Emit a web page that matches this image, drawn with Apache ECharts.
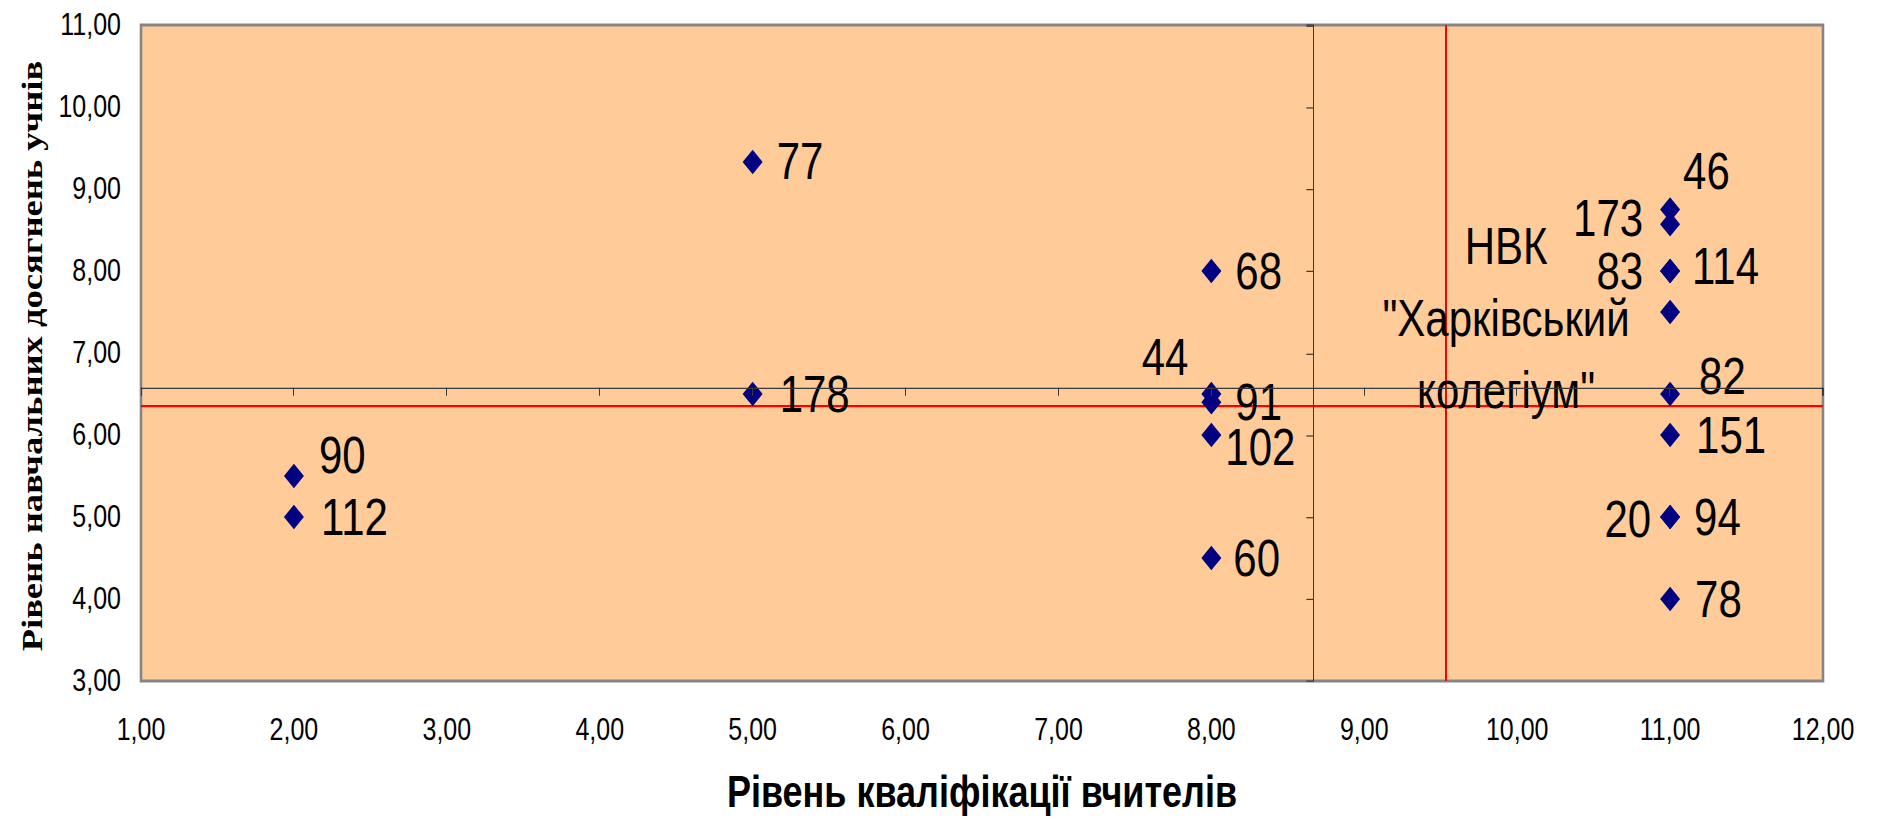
<!DOCTYPE html>
<html>
<head>
<meta charset="utf-8">
<script src="https://cdn.jsdelivr.net/npm/echarts@6/dist/echarts.min.js"></script>
<style>
  html, body { margin: 0; padding: 0; background: #fff; }
  #wrap { width: 1877px; height: 822px; position: relative; }
  /* the original chart is stretched vertically; reproduce that stretch */
  #chart { position: absolute; left: 0; top: 0; width: 1877px; height: 674px;
           transform: scaleY(1.21958); transform-origin: 0 0; }
</style>
</head>
<body>
<div id="wrap"><div id="chart"></div></div>
<script>
// ---- data ----
const pointNames = ['90', '112', '77', '178', '68', '44', '91', '102', '60',
  '46', '173', '83', '114', 'НВК\n"Харківський\nколегіум"', '82', '151', '20', '94', '78'];
const teacherLevel = [2, 2, 5, 5, 8, 8, 8, 8, 8, 11, 11, 11, 11, 11, 11, 11, 11, 11, 11];
const studentLevel = [5.5, 5, 9.33, 6.5, 8, 6.5, 6.4, 6, 4.5, 8.75, 8.57, 8, 8, 7.5, 6.5, 6, 5, 5, 4];
const xRange = [1, 12];
const yRange = [3, 11];
const axisCross = [8.667, 6.575];   // where the black axes cross
const redLines = [9.53, 6.364];     // red reference lines (x, y)
const xTitle = 'Рівень кваліфікації вчителів';
const yTitle = 'Рівень навчальних досягнень учнів';

// ---- label placement (style only) ----
const labelPlace = {
  '90':  { position: 'right', distance: 15 },
  '112': { position: 'right', distance: 17 },
  '77':  { position: 'right', distance: 14 },
  '178': { position: 'right', distance: 17 },
  '68':  { position: 'right', distance: 14 },
  '44':  { position: 'left',  distance: 13 },
  '91':  { position: 'right', distance: 14 },
  '102': { position: 'right', distance: 4 },
  '60':  { position: 'right', distance: 12 },
  '46':  { position: 'right', distance: 3 },
  '173': { position: 'left',  distance: 17 },
  '83':  { position: 'left',  distance: 17 },
  '114': { position: 'right', distance: 12 },
  'НВК\n"Харківський\nколегіум"': { position: 'left', distance: 154, align: 'center', lineHeight: 59 },
  '82':  { position: 'right', distance: 19 },
  '151': { position: 'right', distance: 16 },
  '20':  { position: 'left',  distance: 9 },
  '94':  { position: 'right', distance: 14 },
  '78':  { position: 'right', distance: 15 }
};
const labelShiftY = {
  '90': -17, '44': -30, '102': 10, '46': -31, '173': -5, '114': -4,
  'НВК\n"Харківський\nколегіум"': 5, '82': -14, '20': 2
};

const SANS = '"Liberation Sans", Arial, sans-serif';
const fmt = v => v.toFixed(2).replace('.', ',');

const points = pointNames.map((n, i) => ({
  name: n,
  value: [teacherLevel[i], studentLevel[i]],
  label: Object.assign({}, labelPlace[n])
}));

const chart = echarts.init(document.getElementById('chart'), null, { renderer: 'svg' });

const option = {
  animation: false,
  backgroundColor: '#ffffff',
  grid: {
    left: 141, right: 54, top: 20.5, bottom: 115.6,
    show: true,
    backgroundColor: '#FFCC99',
    borderColor: '#858585',
    borderWidth: 2.6
  },
  xAxis: [
    {
      type: 'value', min: xRange[0], max: xRange[1], interval: 1, position: 'bottom',
      axisLine: { show: false, onZero: false },
      axisTick: { show: false },
      splitLine: { show: false },
      axisLabel: { formatter: fmt, fontFamily: SANS, fontSize: 25, color: '#000', margin: 27 },
      name: xTitle, nameLocation: 'middle', nameGap: 73,
      nameTextStyle: { fontFamily: SANS, fontWeight: 'bold', fontSize: 36, color: '#000' }
    },
    {
      type: 'value', min: xRange[0] - axisCross[0], max: xRange[1] - axisCross[0], interval: 1,
      position: 'bottom', z: 10,
      axisLine: { show: true, onZero: true, onZeroAxisIndex: 1, lineStyle: { color: '#3a3a3a', width: 1 } },
      axisTick: { show: true, length: 6.5, lineStyle: { color: '#3a3a3a', width: 1 } },
      axisLabel: { show: false },
      splitLine: { show: false }
    }
  ],
  yAxis: [
    {
      type: 'value', min: yRange[0], max: yRange[1], interval: 1, position: 'left',
      axisLine: { show: false, onZero: false },
      axisTick: { show: false },
      splitLine: { show: false },
      axisLabel: { formatter: fmt, fontFamily: SANS, fontSize: 25, color: '#000', margin: 20 }
    },
    {
      type: 'value', min: yRange[0] - axisCross[1], max: yRange[1] - axisCross[1], interval: 1,
      position: 'left', z: 10,
      axisLine: { show: true, onZero: true, onZeroAxisIndex: 1, lineStyle: { color: '#3a3a3a', width: 1 } },
      axisTick: { show: true, length: 7, lineStyle: { color: '#3a3a3a', width: 1 } },
      axisLabel: { show: false },
      splitLine: { show: false }
    }
  ],
  graphic: [
    {
      type: 'text',
      x: 32, y: 292,
      rotation: Math.PI / 2,
      style: {
        text: yTitle,
        font: 'bold 30px "Liberation Serif", "Times New Roman", serif',
        fill: '#000',
        textAlign: 'center',
        textVerticalAlign: 'middle'
      }
    }
  ],
  series: [
    {
      type: 'scatter',
      xAxisIndex: 0, yAxisIndex: 0,
      z: 5,
      symbol: 'diamond',
      symbolSize: [20, 20],
      itemStyle: { color: '#000080', opacity: 1 },
      label: {
        show: true,
        formatter: p => p.name,
        fontFamily: SANS,
        fontSize: 42,
        lineHeight: 34,
        color: '#000'
      },
      labelLayout: function (p) {
        const dy = labelShiftY[pointNames[p.dataIndex]];
        return dy ? { dy: dy } : {};
      },
      data: points
    },
    {
      type: 'scatter',
      xAxisIndex: 0, yAxisIndex: 0,
      z: 12,
      data: [],
      silent: true,
      markLine: {
        silent: true,
        symbol: 'none',
        label: { show: false },
        lineStyle: { color: '#FF0000', width: 2, type: 'solid' },
        data: [{ xAxis: redLines[0] }, { yAxis: redLines[1] }]
      }
    }
  ]
};

chart.setOption(option);
</script>
</body>
</html>
